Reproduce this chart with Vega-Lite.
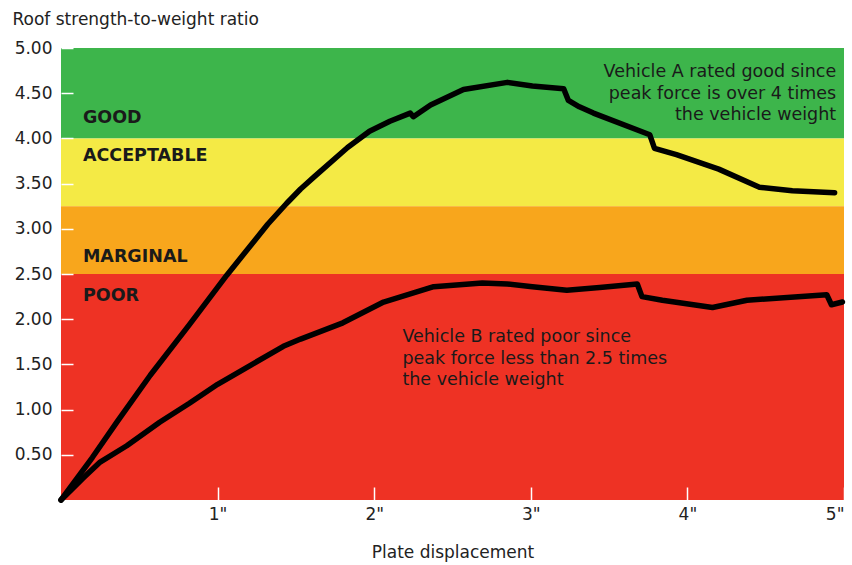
{
  "$schema": "https://vega.github.io/schema/vega-lite/v6.json",
  "width": 783,
  "height": 452,
  "autosize": {"type": "none"},
  "padding": {"left": 61, "top": 48, "right": 8, "bottom": 65},
  "background": "white",
  "config": {
    "view": {"stroke": null},
    "font": "DejaVu Sans",
    "axis": {"domain": false, "grid": false, "labelFont": "DejaVu Sans", "titleFont": "DejaVu Sans", "labelColor": "#222", "titleColor": "#222", "titleFontWeight": "normal", "labelFontSize": 17, "titleFontSize": 17, "tickColor": "white", "tickWidth": 1.5}
  },
  "datasets": {
    "bands": [
      {"band": "GOOD", "lo": 4.0, "hi": 5.0},
      {"band": "ACCEPTABLE", "lo": 3.25, "hi": 4.0},
      {"band": "MARGINAL", "lo": 2.5, "hi": 3.25},
      {"band": "POOR", "lo": 0, "hi": 2.5}
    ],
    "curves": [
      {"vehicle": "A", "d": 0, "r": 0},
      {"vehicle": "A", "d": 0.2, "r": 0.47},
      {"vehicle": "A", "d": 0.36, "r": 0.87},
      {"vehicle": "A", "d": 0.57, "r": 1.38},
      {"vehicle": "A", "d": 0.82, "r": 1.94},
      {"vehicle": "A", "d": 1.06, "r": 2.49},
      {"vehicle": "A", "d": 1.32, "r": 3.05},
      {"vehicle": "A", "d": 1.44, "r": 3.28},
      {"vehicle": "A", "d": 1.53, "r": 3.44},
      {"vehicle": "A", "d": 1.62, "r": 3.58},
      {"vehicle": "A", "d": 1.83, "r": 3.9},
      {"vehicle": "A", "d": 1.97, "r": 4.08},
      {"vehicle": "A", "d": 2.1, "r": 4.19},
      {"vehicle": "A", "d": 2.23, "r": 4.28},
      {"vehicle": "A", "d": 2.25, "r": 4.24},
      {"vehicle": "A", "d": 2.36, "r": 4.37},
      {"vehicle": "A", "d": 2.57, "r": 4.54},
      {"vehicle": "A", "d": 2.85, "r": 4.62},
      {"vehicle": "A", "d": 3.01, "r": 4.58},
      {"vehicle": "A", "d": 3.21, "r": 4.55},
      {"vehicle": "A", "d": 3.24, "r": 4.42},
      {"vehicle": "A", "d": 3.31, "r": 4.35},
      {"vehicle": "A", "d": 3.4, "r": 4.28},
      {"vehicle": "A", "d": 3.76, "r": 4.04},
      {"vehicle": "A", "d": 3.79, "r": 3.89},
      {"vehicle": "A", "d": 3.93, "r": 3.82},
      {"vehicle": "A", "d": 4.2, "r": 3.66},
      {"vehicle": "A", "d": 4.46, "r": 3.46},
      {"vehicle": "A", "d": 4.67, "r": 3.42},
      {"vehicle": "A", "d": 4.94, "r": 3.4},
      {"vehicle": "B", "d": 0, "r": 0},
      {"vehicle": "B", "d": 0.14, "r": 0.24},
      {"vehicle": "B", "d": 0.25, "r": 0.42},
      {"vehicle": "B", "d": 0.42, "r": 0.6},
      {"vehicle": "B", "d": 0.63, "r": 0.86},
      {"vehicle": "B", "d": 0.82, "r": 1.07},
      {"vehicle": "B", "d": 1.0, "r": 1.28},
      {"vehicle": "B", "d": 1.21, "r": 1.49},
      {"vehicle": "B", "d": 1.42, "r": 1.7},
      {"vehicle": "B", "d": 1.53, "r": 1.78},
      {"vehicle": "B", "d": 1.8, "r": 1.96},
      {"vehicle": "B", "d": 2.06, "r": 2.19},
      {"vehicle": "B", "d": 2.38, "r": 2.36},
      {"vehicle": "B", "d": 2.69, "r": 2.4},
      {"vehicle": "B", "d": 2.85, "r": 2.39},
      {"vehicle": "B", "d": 3.01, "r": 2.36},
      {"vehicle": "B", "d": 3.23, "r": 2.32},
      {"vehicle": "B", "d": 3.44, "r": 2.35},
      {"vehicle": "B", "d": 3.68, "r": 2.39},
      {"vehicle": "B", "d": 3.71, "r": 2.25},
      {"vehicle": "B", "d": 3.84, "r": 2.21},
      {"vehicle": "B", "d": 4.16, "r": 2.13},
      {"vehicle": "B", "d": 4.38, "r": 2.21},
      {"vehicle": "B", "d": 4.89, "r": 2.27},
      {"vehicle": "B", "d": 4.92, "r": 2.16},
      {"vehicle": "B", "d": 4.99, "r": 2.19}
    ],
    "bandLabels": [
      {"label": "GOOD", "x": 0.14, "y": 4.23},
      {"label": "ACCEPTABLE", "x": 0.14, "y": 3.81},
      {"label": "MARGINAL", "x": 0.14, "y": 2.69},
      {"label": "POOR", "x": 0.14, "y": 2.26}
    ],
    "notesA": [
      {"x": 4.95, "y": 4.73, "text": ["Vehicle A rated good since", "peak force is over 4 times", "the vehicle weight"]}
    ],
    "notesB": [
      {"x": 2.18, "y": 1.8, "text": ["Vehicle B rated poor since", "peak force less than 2.5 times", "the vehicle weight"]}
    ]
  },
  "layer": [
    {
      "data": {"name": "bands"},
      "mark": {"type": "rect"},
      "encoding": {
        "x": {"datum": 0, "type": "quantitative", "scale": {"domain": [0, 5], "nice": false}},
        "x2": {"datum": 5},
        "y": {"field": "lo", "type": "quantitative", "scale": {"domain": [0, 5], "nice": false}},
        "y2": {"field": "hi"},
        "color": {"field": "band", "type": "nominal", "legend": null, "scale": {"domain": ["GOOD", "ACCEPTABLE", "MARGINAL", "POOR"], "range": ["#3db54b", "#f4ea45", "#f8a61c", "#ee3224"]}}
      }
    },
    {
      "data": {"name": "curves"},
      "mark": {"type": "line", "color": "black", "strokeWidth": 5.5, "strokeCap": "round", "strokeJoin": "round"},
      "encoding": {
        "x": {"field": "d", "type": "quantitative", "scale": {"domain": [0, 5], "nice": false},
          "axis": {"zindex": 2, "offset": -13, "values": [1, 2, 3, 4, 5], "labelExpr": "datum.value + '\"'", "tickSize": 13, "labelPadding": 6, "labelFlush": false, "labelBound": false,
            "labelAlign": {"expr": "datum.value == 5 ? 'right' : 'center'"},
            "title": "Plate displacement", "titleY": 70, "titleBaseline": "alphabetic"}},
        "y": {"field": "r", "type": "quantitative", "scale": {"domain": [0, 5], "nice": false},
          "axis": {"zindex": 2, "offset": -12, "values": [0.5, 1, 1.5, 2, 2.5, 3, 3.5, 4, 4.5, 5], "format": ".2f", "tickSize": 12, "labelPadding": 9,
            "title": "Roof strength-to-weight ratio", "titleAngle": 0, "titleAlign": "left", "titleX": -61, "titleY": -24, "titleBaseline": "alphabetic"}},
        "detail": {"field": "vehicle"}
      }
    },
    {
      "data": {"name": "bandLabels"},
      "mark": {"type": "text", "align": "left", "baseline": "middle", "font": "DejaVu Sans", "fontWeight": "bold", "fontSize": 17.5, "color": "#1a1a1a"},
      "encoding": {
        "x": {"field": "x", "type": "quantitative"},
        "y": {"field": "y", "type": "quantitative"},
        "text": {"field": "label"}
      }
    },
    {
      "data": {"name": "notesA"},
      "mark": {"type": "text", "align": "right", "baseline": "middle", "font": "DejaVu Sans", "fontSize": 17.5, "lineHeight": 21.5, "color": "#1a1a1a"},
      "encoding": {
        "x": {"field": "x", "type": "quantitative"},
        "y": {"field": "y", "type": "quantitative"},
        "text": {"field": "text"}
      }
    },
    {
      "data": {"name": "notesB"},
      "mark": {"type": "text", "align": "left", "baseline": "middle", "font": "DejaVu Sans", "fontSize": 17.5, "lineHeight": 21.5, "color": "#1a1a1a"},
      "encoding": {
        "x": {"field": "x", "type": "quantitative"},
        "y": {"field": "y", "type": "quantitative"},
        "text": {"field": "text"}
      }
    }
  ]
}
